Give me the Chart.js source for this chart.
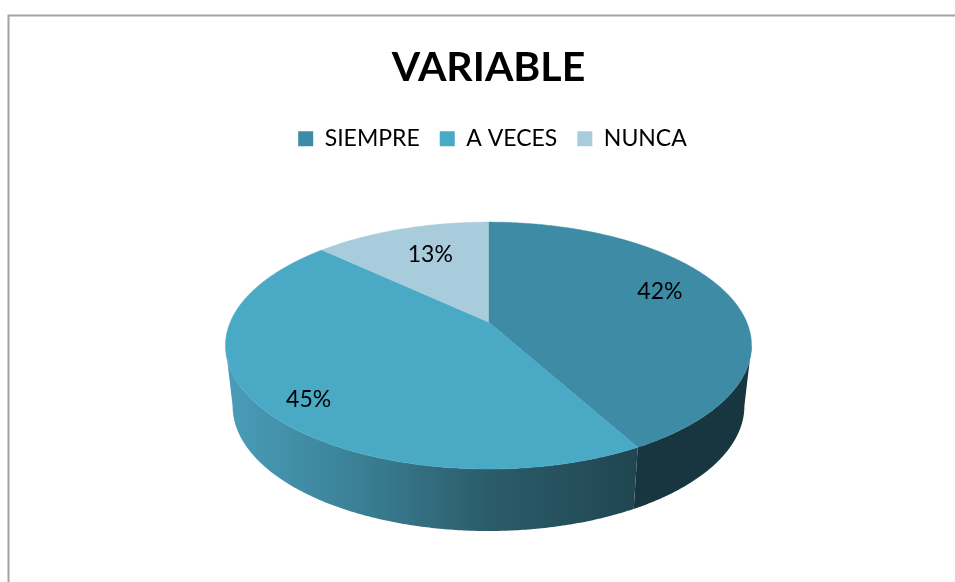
<!DOCTYPE html>
<html>
<head>
<meta charset="utf-8">
<title>VARIABLE</title>
<script src="https://cdn.jsdelivr.net/npm/chart.js@4"></script>
<style>
  html, body { margin: 0; padding: 0; background: #fff; }
  canvas { display: block; }
</style>
</head>
<body>
<canvas id="pie" width="955" height="582"></canvas>
<script>
var categories = ['SIEMPRE', 'A VECES', 'NUNCA'];
var percents = [42, 45, 13];
var sliceColors = ['#3d8ba5', '#4aaac6', '#a8ccdb'];

// label placement in pie coordinates (fraction of radius, degrees from slice middle)
var labelRadius = [0.75, 0.85, 0.68];
var labelTurn = [-7, -5.4, 1.6];

var FONT = 'Lato, Carlito, sans-serif';
var RADIUS = 100;
var LEGEND_SHIFT = 4;
// perspective of the tilted pie, relative to the radius
var TILT = 0.19, SCALE_X = 2.582, SCALE_Y = 1.19;
var RIM_OFFSET = 0.235, DEPTH = 0.605, BOTTOM_X = 0.973, BOTTOM_Y = 1.012;
// the wall is only visible between these angles
var WALL_FROM = Math.asin(TILT), WALL_TO = Math.PI - Math.asin(TILT);

function project(arc, angle, r) {
  var X = r * Math.cos(angle), Y = r * Math.sin(angle);
  var d = 1 - TILT * Y;
  return { x: arc.x + arc.outerRadius * SCALE_X * X / d, y: arc.y + arc.outerRadius * SCALE_Y * Y / d };
}
function projectBottom(arc, angle) {
  var p = project(arc, angle, 1);
  var midY = arc.y + RIM_OFFSET * arc.outerRadius;
  return {
    x: arc.x + (p.x - arc.x) * BOTTOM_X,
    y: midY + DEPTH * arc.outerRadius + (p.y - midY) * BOTTOM_Y
  };
}
function wallFill(ctx, i) {
  if (i !== 1) return '#17363f';
  var g = ctx.createLinearGradient(226, 0, 642, 0);
  g.addColorStop(0, '#4a9db9');
  g.addColorStop(0.3, '#3b8298');
  g.addColorStop(0.63, '#2b5c6a');
  g.addColorStop(1, '#1f4550');
  return g;
}

var tiltedPie = {
  id: 'tiltedPie',
  afterLayout: function (chart) {
    // legend sits a little right of the title in the original
    chart.legend.left += LEGEND_SHIFT;
    chart.legend.right += LEGEND_SHIFT;
  },
  beforeDraw: function (chart) {
    var ctx = chart.ctx;
    ctx.save();
    ctx.strokeStyle = '#a3a3a3';
    ctx.lineWidth = 2;
    ctx.beginPath();
    ctx.moveTo(8.5, chart.height);
    ctx.lineTo(8.5, 15.5);
    ctx.lineTo(chart.width, 15.5);
    ctx.stroke();
    ctx.restore();
  },
  beforeDatasetDraw: function (chart, args) {
    var ctx = chart.ctx;
    var arcs = args.meta.data;
    var step = Math.PI / 360;
    ctx.save();
    // side walls first
    arcs.forEach(function (arc, i) {
      var from = Math.max(arc.startAngle, WALL_FROM);
      var to = Math.min(arc.endAngle, WALL_TO);
      if (to <= from) return;
      var a, p;
      ctx.beginPath();
      for (a = from; a < to; a += step) {
        p = project(arc, a, 1);
        ctx.lineTo(p.x, p.y);
      }
      p = project(arc, to, 1);
      ctx.lineTo(p.x, p.y);
      for (a = to; a > from; a -= step) {
        p = projectBottom(arc, a);
        ctx.lineTo(p.x, p.y);
      }
      p = projectBottom(arc, from);
      ctx.lineTo(p.x, p.y);
      ctx.closePath();
      ctx.fillStyle = wallFill(ctx, i);
      ctx.fill();
    });
    // top face
    arcs.forEach(function (arc, i) {
      ctx.beginPath();
      ctx.moveTo(arc.x, arc.y);
      for (var a = arc.startAngle; a < arc.endAngle; a += step) {
        var p = project(arc, a, 1);
        ctx.lineTo(p.x, p.y);
      }
      var end = project(arc, arc.endAngle, 1);
      ctx.lineTo(end.x, end.y);
      ctx.closePath();
      ctx.fillStyle = sliceColors[i];
      ctx.strokeStyle = sliceColors[i];
      ctx.lineWidth = 0.5;
      ctx.fill();
      ctx.stroke();
    });
    ctx.restore();
    return false;
  },
  afterDatasetsDraw: function (chart) {
    var ctx = chart.ctx;
    var arcs = chart.getDatasetMeta(0).data;
    ctx.save();
    ctx.font = '23px ' + FONT;
    ctx.fillStyle = '#000';
    ctx.textAlign = 'center';
    ctx.textBaseline = 'middle';
    arcs.forEach(function (arc, i) {
      var mid = (arc.startAngle + arc.endAngle) / 2 + labelTurn[i] * Math.PI / 180;
      var p = project(arc, mid, labelRadius[i]);
      ctx.fillText(percents[i] + '%', p.x, p.y);
    });
    ctx.restore();
  }
};

new Chart(document.getElementById('pie'), {
  type: 'pie',
  data: {
    labels: categories,
    datasets: [{
      data: percents,
      backgroundColor: sliceColors,
      borderWidth: 0,
      radius: RADIUS
    }]
  },
  options: {
    responsive: false,
    animation: false,
    layout: { padding: { left: 22, right: 0, top: 0, bottom: 98 } },
    plugins: {
      title: {
        display: true,
        text: 'VARIABLE',
        color: '#000',
        font: { family: FONT, size: 41, weight: 'bold' },
        padding: { top: 43, bottom: 15 }
      },
      legend: {
        display: true,
        position: 'top',
        labels: {
          color: '#000',
          font: { family: FONT, size: 23 },
          boxWidth: 15,
          boxHeight: 15,
          padding: 20
        }
      },
      tooltip: { enabled: false }
    }
  },
  plugins: [tiltedPie]
});
</script>
</body>
</html>
